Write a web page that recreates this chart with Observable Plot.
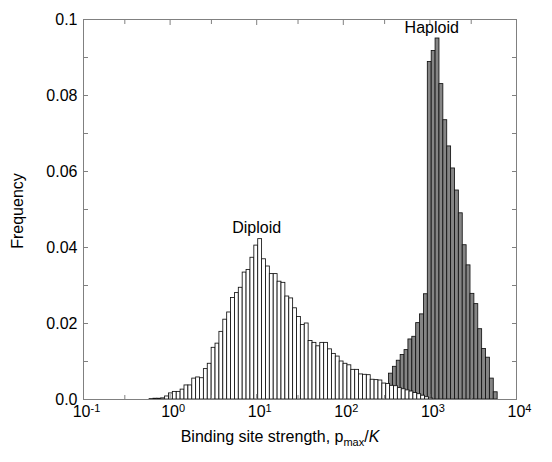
<!DOCTYPE html>
<html><head><meta charset="utf-8">
<script src="https://cdn.jsdelivr.net/npm/d3@7"></script>
<script src="https://cdn.jsdelivr.net/npm/@observablehq/plot@0.6"></script>
<style>body{margin:0;background:#fff} svg{display:block}</style>
</head><body><div id="chart"></div>
<script>
// Histogram bins: constant width in log10 space
const binWidthLog10 = 0.0448;
const diploidFirstEdgeLog10 = -0.237;
const diploidFreq = [
  0.0001, 0.0002, 0.0002, 0.0003,
  0.0008, 0.0016, 0.0020, 0.0020, 0.0026, 0.0037, 0.0037, 0.0055, 0.0058, 0.0056,
  0.0080, 0.0094, 0.0136, 0.0147, 0.0178, 0.0210, 0.0229, 0.0267, 0.0280, 0.0294,
  0.0334, 0.0341, 0.0373, 0.0405, 0.0422,
  0.0369, 0.0350, 0.0330, 0.0330, 0.0310, 0.0307, 0.0271, 0.0266, 0.0240, 0.0217,
  0.0196, 0.0200, 0.0154, 0.0149, 0.0140, 0.0149, 0.0149, 0.0132, 0.0120, 0.0113,
  0.0100, 0.0094, 0.0090, 0.0078, 0.0078, 0.0066, 0.0065, 0.0064, 0.0052, 0.0051,
  0.0050, 0.0042, 0.0041, 0.0036, 0.0035, 0.0030, 0.0027, 0.0024, 0.0021, 0.0017,
  0.0014, 0.0010, 0.0006, 0.0003
];
const haploidFirstEdgeLog10 = 2.528;
const haploidFreq = [
  0.0068, 0.0086, 0.0102, 0.0117, 0.0130, 0.0158, 0.0165, 0.0201, 0.0224, 0.0277,
  0.0888, 0.0917, 0.0950, 0.0830, 0.0735, 0.0666, 0.0608, 0.0550, 0.0490, 0.0406,
  0.0353, 0.0278, 0.0251, 0.0185, 0.0133, 0.0110, 0.0055, 0.0019
];

const majorTicksX = [0.1, 1, 10, 100, 1000, 10000];
const xTickLabels = ["10^-1", "10^0", "10^1", "10^2", "10^3", "10^4"];
const minorTicksX = [0.3, 3, 30, 300, 3000];
const majorTicksY = [0, 0.02, 0.04, 0.06, 0.08, 0.1];
const yTickLabels = ["0.0", "0.02", "0.04", "0.06", "0.08", "0.1"];
const allTicksY = [0, 0.01, 0.02, 0.03, 0.04, 0.05, 0.06, 0.07, 0.08, 0.09, 0.1];

const labelNames = ["Diploid", "Haploid"];
const labelX = [10, 1050];
const labelY = [0.0422, 0.095];

function toBins(freq, firstEdge) {
  return freq.map((f, i) => ({
    x1: Math.pow(10, firstEdge + i * binWidthLog10),
    x2: Math.pow(10, firstEdge + (i + 1) * binWidthLog10),
    y: f
  }));
}
const diploid = toBins(diploidFreq, diploidFirstEdgeLog10);
const haploid = toBins(haploidFreq, haploidFirstEdgeLog10);
const labels = labelNames.map((t, i) => ({t, x: labelX[i], y: labelY[i]}));

const axisGray = "#808080";
const svg = Plot.plot({
  width: 552,
  height: 462,
  marginLeft: 83,
  marginRight: 36,
  marginTop: 19,
  marginBottom: 63,
  style: {fontFamily: "'Liberation Sans', Arial, Helvetica, sans-serif", fontSize: "16px", color: "black", background: "white"},
  x: {type: "log", domain: [0.1, 10000]},
  y: {domain: [0, 0.1]},
  marks: [
    Plot.rectY(haploid, {x1: "x1", x2: "x2", y: "y", fill: "#858585", stroke: "#111", strokeWidth: 0.85}),
    Plot.rectY(diploid, {x1: "x1", x2: "x2", y: "y", fill: "white", stroke: "#111", strokeWidth: 0.85}),
    Plot.frame({stroke: axisGray, strokeWidth: 1}),
    // inward ticks
    Plot.axisX({anchor: "bottom", ticks: majorTicksX, tickSize: -5, tickFormat: () => "", label: null, stroke: axisGray}),
    Plot.axisX({anchor: "top", ticks: majorTicksX, tickSize: -5, tickFormat: () => "", label: null, stroke: axisGray}),
    Plot.axisX({anchor: "bottom", ticks: minorTicksX, tickSize: -4, tickFormat: () => "", label: null, stroke: axisGray}),
    Plot.axisX({anchor: "top", ticks: minorTicksX, tickSize: -4, tickFormat: () => "", label: null, stroke: axisGray}),
    Plot.axisY({anchor: "left", ticks: allTicksY, tickSize: -5, tickFormat: () => "", label: null, stroke: axisGray}),
    Plot.axisY({anchor: "right", ticks: allTicksY, tickSize: -5, tickFormat: () => "", label: null, stroke: axisGray}),
    // tick labels
    Plot.axisX({anchor: "bottom", ticks: majorTicksX, tickSize: 0, tickPadding: 6, label: null,
      tickFormat: d => xTickLabels[majorTicksX.indexOf(d)], fill: "black"}),
    Plot.axisY({anchor: "left", ticks: majorTicksY, tickSize: 0, tickPadding: 6, label: null,
      tickFormat: d => yTickLabels[majorTicksY.indexOf(d)], fill: "black"}),
    // series labels
    Plot.text(labels, {x: "x", y: "y", text: "t", textAnchor: "middle", lineAnchor: "bottom", dy: -6, fill: "black", fontSize: 16})
  ]
});

const s = d3.select(svg);
s.selectAll('g[aria-label="x-axis tick label"] text').each(function () {
  const str = this.textContent;
  if (!str || str.indexOf("^") < 0) return;
  const [base, exp] = str.split("^");
  const t = d3.select(this);
  t.text(base).attr("dx", 3);
  t.append("tspan").attr("dy", "-0.45em").attr("font-size", "11px").text(exp);
});

// y-axis title
s.append("text")
  .attr("transform", "translate(22.5,211) rotate(-90)")
  .attr("text-anchor", "middle")
  .attr("fill", "black")
  .attr("font-size", "16px")
  .text("Frequency");

// x-axis title with subscript and italic
const xt = s.append("text")
  .attr("x", 280).attr("y", 442)
  .attr("text-anchor", "middle")
  .attr("fill", "black")
  .attr("font-size", "16px");
xt.append("tspan").text("Binding site strength, p");
xt.append("tspan").attr("font-size", "11px").attr("dy", 4).text("max");
xt.append("tspan").attr("dy", -4).text("/");
xt.append("tspan").attr("font-style", "italic").text("K");

document.getElementById("chart").appendChild(svg);
</script>
</body></html>
